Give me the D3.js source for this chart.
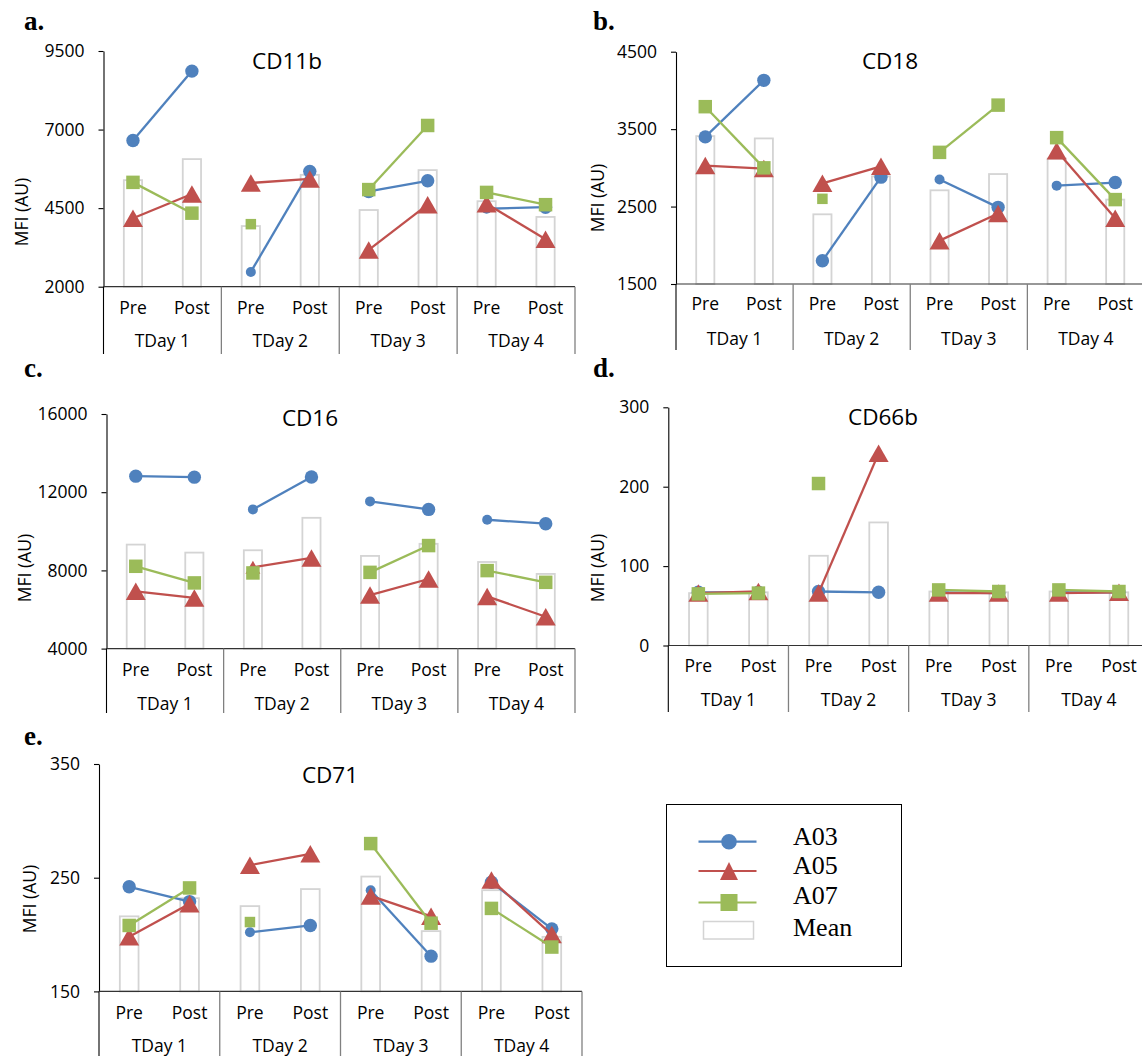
<!DOCTYPE html>
<html>
<head>
<meta charset="utf-8">
<script src="https://cdn.jsdelivr.net/npm/d3@7"></script>
<style>
  body { margin: 0; background: #fff; }
  svg { display: block; }
</style>
</head>
<body>
<svg id="fig" width="1142" height="1056"></svg>
<script>
// ---- data ---------------------------------------------------------------
const days = ["TDay 1", "TDay 2", "TDay 3", "TDay 4"];
const phases = ["Pre", "Post"];
const subjects = ["A03", "A05", "A07"];

// each array: TDay1 Pre, TDay1 Post, TDay2 Pre, TDay2 Post, ... (MFI, AU)
const cd11bA03  = [6650, 8860, 2470, 5670, 5030, 5370, 4480, 4530];
const cd11bA05  = [4180, 4950, 5300, 5430, 3170, 4610, 4640, 3510];
const cd11bA07  = [5320, 4340, 3990, null, 5090, 7130, 5000, 4610];
const cd11bMean = [5390, 6060, 3930, 5560, 4440, 5710, 4720, 4220];
const cd11bTicks = [2000, 4500, 7000, 9500];

const cd18A03  = [3400, 4130, 1800, 2880, 2850, 2490, 2770, 2810];
const cd18A05  = [3030, 2990, 2800, 3020, 2060, 2410, 3220, 2350];
const cd18A07  = [3790, 3000, 2600, null, 3200, 3810, 3390, 2590];
const cd18Mean = [3410, 3380, 2400, 2890, 2710, 2920, 3120, 2590];
const cd18Ticks = [1500, 2500, 3500, 4500];

const cd16A03  = [12820, 12770, 11120, 12780, 11530, 11120, 10590, 10390];
const cd16A05  = [6930, 6590, 8160, 8640, 6740, 7560, 6670, 5630];
const cd16A07  = [8210, 7360, 7870, null, 7900, 9270, 7990, 7390];
const cd16Mean = [9320, 8910, 9030, 10690, 8740, 9360, 8430, 7820];
const cd16Ticks = [4000, 8000, 12000, 16000];

const cd66bA03  = [67, 67, 68, 67, 67, 66, 67, 67];
const cd66bA05  = [66, 68, 66, 242, 66, 66, 66, 67];
const cd66bA07  = [65, 66, 204, null, 70, 68, 70, 68];
const cd66bMean = [66, 67, 113, 155, 68, 67, 68, 67];
const cd66bTicks = [0, 100, 200, 300];

const cd71A03  = [242, 229, 202, 208, 239, 181, 246, 205];
const cd71A05  = [198, 227, 261, 271, 234, 216, 248, 200];
const cd71A07  = [208, 241, 211, null, 280, 210, 223, 189];
const cd71Mean = [216, 232, 225, 240, 251, 203, 239, 198];
const cd71Ticks = [150, 250, 350];

// ---- appearance ---------------------------------------------------------
const colors = { A03: "#4F81BD", A05: "#C0504D", A07: "#9BBB59" };
const shapes = { A03: "circle", A05: "triangle", A07: "square" };
const sansFont = "'Open Sans', 'Noto Sans', sans-serif";
const serifFont = "'Liberation Serif', 'DejaVu Serif', serif";

// markers drawn at reduced size, as [subject, point index]
const smallMarks = {
  CD11b: [["A03", 2], ["A07", 2], ["A03", 6]],
  CD18:  [["A03", 4], ["A03", 6], ["A07", 2]],
  CD16:  [["A03", 2], ["A03", 4], ["A03", 6], ["A05", 2]],
  CD66b: [],
  CD71:  [["A03", 2], ["A03", 4], ["A07", 2]]
};

// panel frames (pixels)
const panels = [
  { letter: "a.", title: "CD11b", series: [cd11bA03, cd11bA05, cd11bA07], mean: cd11bMean, ticks: cd11bTicks,
    x0: 103.5, x1: 575, yTop: 51, yBot: 286.7, preY: 307, dayY: 340, divBot: 354,
    titleX: 287, titleY: 60, labX: 21, labY: 212, letX: 24, letY: 30 },
  { letter: "b.", title: "CD18", series: [cd18A03, cd18A05, cd18A07], mean: cd18Mean, ticks: cd18Ticks,
    x0: 676, x1: 1144.5, yTop: 51.7, yBot: 284, preY: 303, dayY: 338, divBot: 350,
    titleX: 890, titleY: 60, labX: 597, labY: 198, letX: 593, letY: 30 },
  { letter: "c.", title: "CD16", series: [cd16A03, cd16A05, cd16A07], mean: cd16Mean, ticks: cd16Ticks,
    x0: 106.5, x1: 575, yTop: 414, yBot: 648.6, preY: 669, dayY: 703, divBot: 713,
    titleX: 310, titleY: 417, labX: 24, labY: 568, letX: 24, letY: 377 },
  { letter: "d.", title: "CD66b", series: [cd66bA03, cd66bA05, cd66bA07], mean: cd66bMean, ticks: cd66bTicks,
    x0: 668.3, x1: 1149, yTop: 407.3, yBot: 645.5, preY: 665, dayY: 698.5, divBot: 712,
    titleX: 883, titleY: 416, labX: 597, labY: 568, letX: 593, letY: 377 },
  { letter: "e.", title: "CD71", series: [cd71A03, cd71A05, cd71A07], mean: cd71Mean, ticks: cd71Ticks,
    x0: 99, x1: 582, yTop: 764, yBot: 991.4, preY: 1012, dayY: 1045, divBot: 1060,
    titleX: 330, titleY: 774, labX: 29, labY: 899, letX: 24, letY: 745 }
];

const svg = d3.select("#fig");

function markerPath(shape, small) {
  if (shape === "circle") {
    const r = small ? 5 : 6.7;
    return `M${-r},0A${r},${r} 0 1,0 ${r},0A${r},${r} 0 1,0 ${-r},0Z`;
  }
  if (shape === "triangle") {
    const w = small ? 15 : 20, h = small ? 13 : 17.5;
    return `M0,${-h / 2}L${w / 2},${h / 2}L${-w / 2},${h / 2}Z`;
  }
  const s = small ? 10.5 : 13.5;
  return `M${-s / 2},${-s / 2}h${s}v${s}h${-s}Z`;
}

panels.forEach(p => {
  const g = svg.append("g");
  const idx = d3.range(days.length * phases.length);
  const x = d3.scaleBand().domain(idx).range([p.x0, p.x1]).padding(0);
  const groupW = (p.x1 - p.x0) / days.length;
  const y = d3.scaleLinear().domain([p.ticks[0], p.ticks[p.ticks.length - 1]]).range([p.yBot, p.yTop]);
  const cx = i => x(i) + x.bandwidth() / 2;
  const bw = x.bandwidth() * 0.31;

  // mean bars
  g.append("g").selectAll("rect").data(p.mean).join("rect")
    .attr("x", (d, i) => cx(i) - bw / 2)
    .attr("y", d => y(d))
    .attr("width", bw)
    .attr("height", d => p.yBot - y(d))
    .attr("fill", "#fff")
    .attr("stroke", "#d4d4d4")
    .attr("stroke-width", 1.8);

  // y axis
  const ax = g.append("g").attr("transform", `translate(${p.x0},0)`)
    .call(d3.axisLeft(y).tickValues(p.ticks).tickSize(5).tickSizeOuter(0).tickPadding(14).tickFormat(d3.format("d")));
  ax.select(".domain").attr("stroke", "#000").attr("stroke-width", 1.1);
  ax.selectAll(".tick line").attr("stroke", "#000").attr("stroke-width", 1.1);
  ax.selectAll(".tick text").attr("font-family", sansFont).attr("font-size", 17.5).attr("fill", "#000");

  // category axis: baseline, group dividers, labels
  g.append("line").attr("x1", p.x0).attr("x2", p.x1).attr("y1", p.yBot).attr("y2", p.yBot)
    .attr("stroke", "#333").attr("stroke-width", 1.2);
  g.append("line").attr("x1", p.x0).attr("x2", p.x0).attr("y1", p.yBot).attr("y2", p.divBot)
    .attr("stroke", "#000").attr("stroke-width", 1.1);
  g.append("g").selectAll("line").data(d3.range(1, days.length + 1)).join("line")
    .attr("x1", k => p.x0 + k * groupW).attr("x2", k => p.x0 + k * groupW)
    .attr("y1", p.yBot).attr("y2", p.divBot)
    .attr("stroke", "#808080").attr("stroke-width", 1.3);
  g.append("g").selectAll("text").data(idx).join("text")
    .attr("x", i => cx(i)).attr("y", p.preY)
    .attr("text-anchor", "middle").attr("dominant-baseline", "central")
    .attr("font-family", sansFont).attr("font-size", 17.5)
    .text(i => phases[i % 2]);
  g.append("g").selectAll("text").data(days).join("text")
    .attr("x", (d, k) => p.x0 + (k + 0.5) * groupW).attr("y", p.dayY)
    .attr("text-anchor", "middle").attr("dominant-baseline", "central")
    .attr("font-family", sansFont).attr("font-size", 17.5)
    .text(d => d);

  // subject lines (Pre -> Post within each day) and markers
  p.series.forEach((vals, si) => {
    const name = subjects[si];
    const sg = g.append("g");
    const segs = days.map((d, k) => [2 * k, 2 * k + 1])
      .filter(([a, b]) => vals[a] != null && vals[b] != null);
    sg.selectAll("line").data(segs).join("line")
      .attr("x1", ([a]) => cx(a)).attr("y1", ([a]) => y(vals[a]))
      .attr("x2", ([, b]) => cx(b)).attr("y2", ([, b]) => y(vals[b]))
      .attr("stroke", colors[name]).attr("stroke-width", 2.3);
    const small = new Set((smallMarks[p.title] || []).filter(m => m[0] === name).map(m => m[1]));
    const pts = idx.filter(i => vals[i] != null);
    sg.selectAll("path").data(pts).join("path")
      .attr("transform", i => `translate(${cx(i)},${y(vals[i])})`)
      .attr("d", i => markerPath(shapes[name], small.has(i)))
      .attr("fill", colors[name]);
  });

  // titles and labels
  g.append("text").attr("x", p.titleX).attr("y", p.titleY)
    .attr("text-anchor", "middle").attr("dominant-baseline", "central")
    .attr("font-family", sansFont).attr("font-size", 22.5).text(p.title);
  g.append("text")
    .attr("transform", `translate(${p.labX},${p.labY}) rotate(-90)`)
    .attr("text-anchor", "middle").attr("dominant-baseline", "central")
    .attr("font-family", sansFont).attr("font-size", 17.5).text("MFI (AU)");
  g.append("text").attr("x", p.letX).attr("y", p.letY)
    .attr("font-family", serifFont).attr("font-weight", "bold").attr("font-size", 27)
    .text(p.letter);
});

// ---- legend -------------------------------------------------------------
const lg = svg.append("g");
lg.append("rect").attr("x", 666.5).attr("y", 804.5).attr("width", 235).attr("height", 162)
  .attr("fill", "#fff").attr("stroke", "#000").attr("stroke-width", 1);
const rows = [841.7, 871, 902.5];
const textBase = [845, 873.5, 903.5];
subjects.forEach((s, i) => {
  lg.append("line").attr("x1", 698.5).attr("x2", 756.5).attr("y1", rows[i]).attr("y2", rows[i])
    .attr("stroke", colors[s]).attr("stroke-width", 2.2);
  lg.append("path").attr("transform", `translate(729,${rows[i]})`)
    .attr("d", () => {
      if (shapes[s] === "circle") return "M-7.8,0A7.8,7.8 0 1,0 7.8,0A7.8,7.8 0 1,0 -7.8,0Z";
      if (shapes[s] === "triangle") return "M0,-9L9,9L-9,9Z";
      return "M-8.5,-8.5h17v17h-17Z";
    })
    .attr("fill", colors[s]);
  lg.append("text").attr("x", 793).attr("y", textBase[i])
    .attr("font-family", serifFont).attr("font-size", 26).text(s);
});
lg.append("rect").attr("x", 703.5).attr("y", 921.5).attr("width", 50).attr("height", 17.5)
  .attr("fill", "#fff").attr("stroke", "#d4d4d4").attr("stroke-width", 1.5);
lg.append("text").attr("x", 793).attr("y", 936)
  .attr("font-family", serifFont).attr("font-size", 26).text("Mean");
</script>
</body>
</html>
